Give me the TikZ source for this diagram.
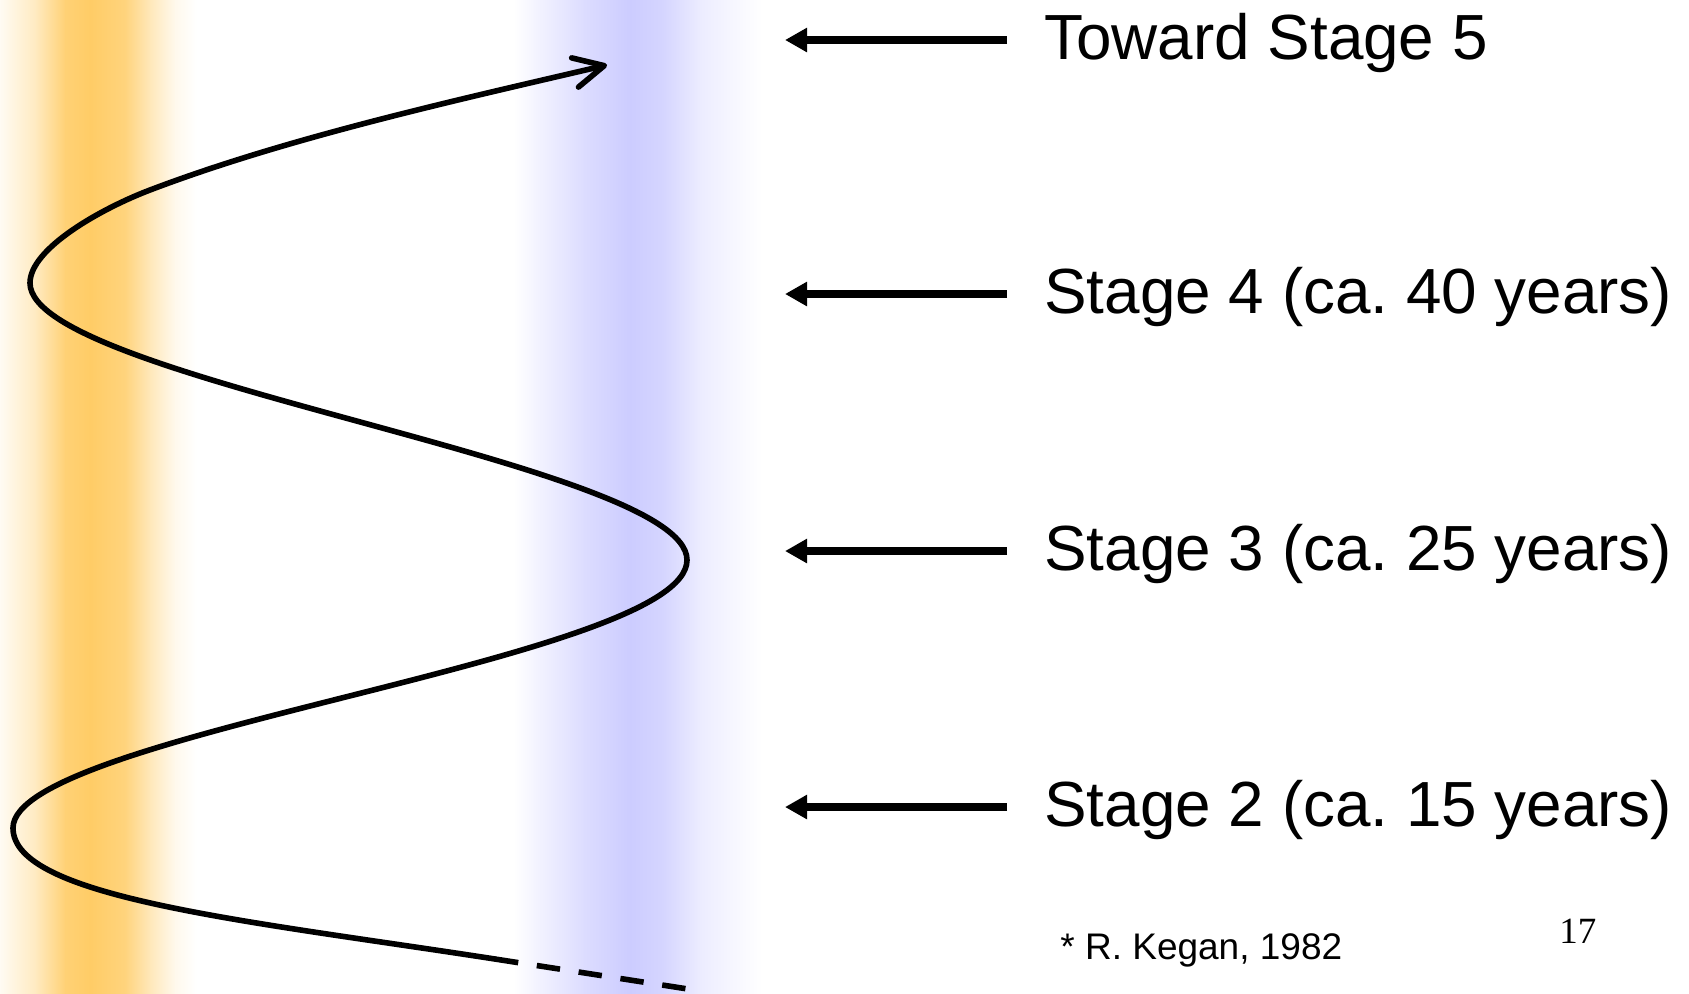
\documentclass[tikz,border=0pt]{standalone}
\usepackage{fontspec}
\setmainfont{Liberation Sans}
\newfontfamily\pagenumfont{Liberation Serif}
\usetikzlibrary{arrows.meta}
\frenchspacing

\definecolor{bandorange}{RGB}{255,204,102}
\definecolor{bandblue}{RGB}{204,204,255}

\begin{document}
\begin{tikzpicture}[x=0.5pt,y=-0.5pt,
  spiral/.style={line width=2.8pt, line cap=round, line join=round},
  pointer/.style={line width=3.9pt, -{Triangle[length=11pt,width=11.5pt]}},
  stagelabel/.style={anchor=base west, inner sep=0pt, font=\fontsize{31.9}{36}\selectfont},
  smalllabel/.style={anchor=base west, inner sep=0pt, font=\fontsize{18.5}{22}\selectfont},
]
\useasboundingbox (0,0) rectangle (1689,993);

% soft vertical colour bands (piecewise linear gradients)
\foreach \xa/\pa/\xb/\pb in {0/8/35/40, 35/40/65/90, 65/90/90/100, 90/100/125/85,
                             125/85/150/45, 150/45/175/12, 175/12/196/0}
  \shade[left color=bandorange!\pa, right color=bandorange!\pb] (\xa,0) rectangle (\xb+0.6,993);
\foreach \xa/\pa/\xb/\pb in {513/0/533/20, 533/20/583/67, 583/67/630/100, 630/100/663/82,
                             663/82/700/37, 700/37/743/10, 743/10/762/0}
  \shade[left color=bandblue!\pa, right color=bandblue!\pb] (\xa,0) rectangle (\xb+0.6,993);

% the developmental spiral
\draw[spiral, -{Straight Barb[length=15pt,width=15pt,round]}]
  (495,959) .. controls (248,920.75) and (13,898) .. (13,828)
            .. controls (13,733) and (687,660) .. (687,560)
            .. controls (687,463) and (30,380) .. (30,283)
            .. controls (30,248) and (103,207.8) .. (150,190)
            .. controls (290,136.75) and (461,99.2) .. (607,65);
\draw[spiral, line cap=butt, dash pattern=on 11.75pt off 9.4pt] (495,959) -- (688,989);

% stage labels
\node[stagelabel] (t5) at (1044,59)  {Toward Stage 5};
\node[stagelabel] (t4) at (1044,313) {Stage 4 (ca. 40 years)};
\node[stagelabel] (t3) at (1044,570) {Stage 3 (ca. 25 years)};
\node[stagelabel] (t2) at (1044,826) {Stage 2 (ca. 15 years)};

% pointers towards the spiral
\foreach \n/\y in {5/40, 4/294, 3/551, 2/807} {
  \coordinate (p\n s) at (1007,\y);
  \coordinate (p\n e) at (785,\y);
  \draw[pointer] (p\n s) -- (p\n e);
}

\node[smalllabel] (cite) at (1060,959) {* R.~Kegan, 1982};
\node[smalllabel, font=\pagenumfont\fontsize{18.5}{22}\selectfont] (pgno) at (1559,943) {17};
\end{tikzpicture}
\end{document}
